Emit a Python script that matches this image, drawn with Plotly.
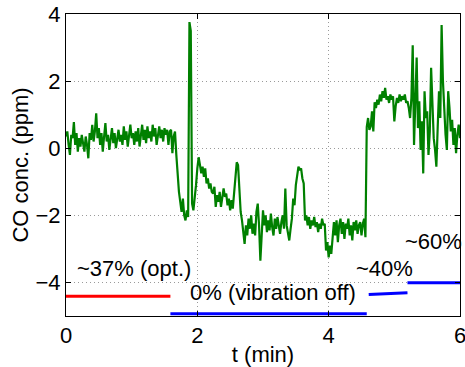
import plotly.graph_objects as go

# time axis (min), sample step 0.02
t_start = 0.0
t_step = 0.02

co_conc = [
    0.35, 0.5, 0.1, -0.2, 0.4, 0.3, 0.78, 0.1, 0.45, -0.1,
    0.3, 0.05, 0.4, 0.2, -0.1, 0.35, 0.1, -0.3, 0.45, 0.25,
    0.7, 0.2, 0.5, 1.04, 0.3, 0.6, 0.1, 0.45, -0.1, 0.35,
    0.75, 0.2, 0.4, -0.05, 0.3, 0.6, 0.15, 0.45, 0.0, 0.3,
    0.55, 0.2, 0.4, 0.1, 0.65, 0.25, 0.5, 0.05, 0.35, 0.7,
    0.3, 0.45, 0.1, 0.5, 0.2, 0.6, 0.05, 0.4, 0.7, 0.25,
    0.55, 0.15, 0.65, 0.3, 0.5, 0.2, 0.7, 0.35, 0.6, 0.1,
    0.45, 0.65, 0.3, 0.55, 0.2, 0.6, 0.4, 0.55, 0.1, 0.5,
    0.55, -0.15, 0.35, 0.5, -0.2, -0.9, -1.3, -1.6, -1.9, -1.5,
    -2.0, -2.15, -1.85, -2.05, 3.76, 3.5, -1.65, -1.85, -1.5, -1.1,
    -0.6, -0.27, -0.5, -0.75, -0.55, -0.85, -0.6, -1.05, -0.9, -1.2,
    -1.05, -1.3, -1.35, -1.15, -1.75, -1.4, -1.6, -1.3, -1.75, -1.5,
    -1.2, -1.45, -1.35, -1.7, -1.5, -1.85, -1.55, -1.8, -1.4, -1.0,
    -0.42, -0.5, -1.2, -1.9, -2.15, -2.45, -2.85, -2.3, -2.6, -2.1,
    -2.4, -2.0, -2.55, -2.25, -2.6, -1.9, -1.65, -2.3, -3.35, -2.6,
    -1.85, -2.3, -2.0, -2.5, -2.15, -2.45, -1.95, -2.35, -2.6, -2.1,
    -2.4, -2.05, -2.3, -2.55, -2.2, -2.0, -2.4, -1.2, -2.3, -2.55,
    -2.75, -2.4, -2.1, -1.5, -1.7, -1.1, -0.8, -0.55, -0.65, -0.6,
    -0.9, -1.05, -2.15, -2.0, -2.3, -2.05, -2.4, -2.15, -2.3, -2.05,
    -2.35, -2.2, -2.5, -2.25, -2.4, -2.1, -2.3, -2.25, -3.05, -2.8,
    -3.25, -2.9, -3.15, -2.5, -2.2, -2.6, -2.15, -2.8, -2.3, -2.1,
    -2.55, -2.2, -2.7, -2.25, -2.4, -2.1, -2.6, -2.3, -2.75, -2.2,
    -2.45, -2.15, -2.55, -2.3, -2.2, -2.6, -2.25, -2.1, -2.65, 0.63,
    0.9, 0.55, 0.65, 1.1, 0.5, 1.37, 1.2, 1.45, 1.3, 1.6,
    1.4, 1.7, 1.5, 1.8, 1.45, 1.55, 1.35, 1.6, 1.45, 1.55,
    0.8, 1.25, 1.5, 1.35, 1.6, 1.4, 1.55, 1.45, 1.6, 1.35,
    1.4, 1.2, 0.9, 1.5, 3.07, 0.1, 1.2, 2.7, 0.6, 1.4,
    -0.05, 0.8, -0.75, 1.7, 0.9, 1.1, -0.2, 0.5, 2.4, 1.5,
    0.3, -0.05, -0.55, 0.6, 1.7, 0.9, 3.67, 2.0, 1.1, 0.4,
    -0.05, 1.7, 1.2, 0.5, 0.85, 0.1, 0.6, -0.15, 0.4, 0.7,
    0.3,
]
time_min = [round(t_start + i * t_step, 2) for i in range(len(co_conc))]

# vibration level indicator segments
red_x = [0.0, 1.59]
red_y = [-4.41, -4.41]
blue_segments_x = [[1.59, 4.58], [4.61, 5.20], [5.20, 6.0]]
blue_segments_y = [[-4.93, -4.93], [-4.36, -4.31], [-4.01, -4.01]]

labels = ["~37% (opt.)", "0% (vibration off)", "~40%", "~60%"]
label_x = [0.14, 1.86, 4.38, 5.13]
label_y = [-3.58, -4.3, -3.58, -2.78]

x_ticks = [0, 2, 4, 6]
y_ticks = [-4, -2, 0, 2, 4]

FS = 22

fig = go.Figure()
fig.add_trace(go.Scatter(x=time_min, y=co_conc, mode="lines",
                         line=dict(color="#008000", width=2.2), showlegend=False))
fig.add_trace(go.Scatter(x=red_x, y=red_y, mode="lines",
                         line=dict(color="#ff0000", width=3), showlegend=False))
for bx, by in zip(blue_segments_x, blue_segments_y):
    fig.add_trace(go.Scatter(x=bx, y=by, mode="lines",
                             line=dict(color="#0000ff", width=3), showlegend=False))

for txt, xx, yy in zip(labels, label_x, label_y):
    fig.add_annotation(x=xx, y=yy, text=txt, showarrow=False,
                       xanchor="left", yanchor="middle",
                       font=dict(size=FS, color="black"))

axis_common = dict(
    showline=True, linecolor="black", linewidth=1, mirror="ticks",
    ticks="inside", ticklen=5, tickcolor="black",
    showgrid=True, gridcolor="#9a9a9a", griddash="1px,3px", gridwidth=1,
    zeroline=False, tickfont=dict(size=FS, color="black"),
    automargin=False, ticklabeloverflow="allow",
)

fig.update_layout(
    width=465, height=367,
    margin=dict(l=66, r=5, t=14, b=51),
    paper_bgcolor="white", plot_bgcolor="white",
    font=dict(family="Liberation Sans, Arial, sans-serif", color="black"),
    xaxis=dict(range=[0, 6], tickvals=x_ticks,
               title=dict(text="t (min)", font=dict(size=FS), standoff=0),
               **axis_common),
    yaxis=dict(range=[-5, 4], tickvals=y_ticks,
               ticktext=["\u22124", "\u22122", "0", "2", "4"],
               title=dict(text="CO conc. (ppm)", font=dict(size=FS), standoff=0),
               **axis_common),
)

fig.write_html("out.html",
               config={"displayModeBar": False},
               post_script="document.body.style.margin='0px';"
                           "document.body.style.overflow='hidden';")
